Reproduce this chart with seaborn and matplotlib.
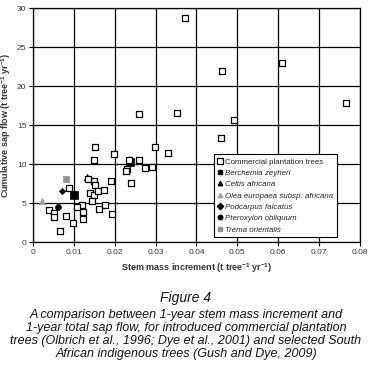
import pandas as pd
import seaborn as sns
import matplotlib.pyplot as plt
from matplotlib.lines import Line2D

# commercial plantation trees
comm_x = [0.0373, 0.0610, 0.0462, 0.0767, 0.0353, 0.0260, 0.0492, 0.0460, 0.0152, 0.0299,
          0.0331, 0.0198, 0.0148, 0.0235, 0.0259, 0.0230, 0.0228, 0.0275, 0.0291, 0.0240,
          0.0191, 0.0149, 0.0151, 0.0135, 0.0087, 0.0140, 0.0150, 0.0159, 0.0174, 0.0144,
          0.0177, 0.0160, 0.0193, 0.0120, 0.0106, 0.0123, 0.0122, 0.0098, 0.0081, 0.0039,
          0.0051, 0.0051, 0.0066]
comm_y = [28.7, 22.9, 21.9, 17.9, 16.6, 16.4, 15.6, 13.3, 12.2, 12.2,
          11.4, 11.3, 10.6, 10.5, 10.5, 9.35, 9.1, 9.5, 9.7, 7.6,
          7.9, 7.8, 7.4, 8.15, 6.9, 6.3, 6.0, 6.6, 6.65, 5.25,
          4.74, 4.23, 3.6, 4.74, 4.57, 3.84, 2.94, 2.52, 3.33, 4.10,
          3.71, 3.29, 1.45]

# indigenous trees
species = ['Berchemia zeyheri', 'Berchemia zeyheri', 'Celtis africana',
           'Olea europaea subsp. africana', 'Podcarpus falcatus',
           'Pteroxylon obliquum', 'Trema orientalis']
sp_x = [0.0099, 0.0236, 0.0132, 0.0022, 0.0071, 0.0061, 0.0081]
sp_y = [6.1, 10.3, 8.35, 5.25, 6.6, 4.5, 8.1]

legend_names = ['Berchemia zeyheri', 'Celtis africana', 'Olea europaea subsp. africana',
                'Podcarpus falcatus', 'Pteroxylon obliquum', 'Trema orientalis']
markers = {'Berchemia zeyheri': 's', 'Celtis africana': '^',
           'Olea europaea subsp. africana': '^', 'Podcarpus falcatus': 'D',
           'Pteroxylon obliquum': 'o', 'Trema orientalis': 's'}
colors = {'Berchemia zeyheri': 'black', 'Celtis africana': 'black',
          'Olea europaea subsp. africana': '#a0a0a0', 'Podcarpus falcatus': 'black',
          'Pteroxylon obliquum': 'black', 'Trema orientalis': '#909090'}
sizes = {'Berchemia zeyheri': 32, 'Celtis africana': 20,
         'Olea europaea subsp. africana': 20, 'Podcarpus falcatus': 10,
         'Pteroxylon obliquum': 18, 'Trema orientalis': 22}

df_comm = pd.DataFrame({'x': comm_x, 'y': comm_y})
df_sp = pd.DataFrame({'x': sp_x, 'y': sp_y, 'species': species})

sns.set_style('white')
plt.rcParams['font.family'] = ['Liberation Sans', 'DejaVu Sans']
plt.rcParams['mathtext.fontset'] = 'custom'
plt.rcParams['mathtext.rm'] = 'Liberation Sans'
plt.rcParams['mathtext.bf'] = 'Liberation Sans:bold'

fig = plt.figure(figsize=(3.72, 3.66), dpi=100)
ax = fig.add_axes([0.0895, 0.338, 0.877, 0.64])

for name in legend_names:
    sub = df_sp[df_sp['species'] == name]
    sns.scatterplot(data=sub, x='x', y='y', ax=ax, marker=markers[name],
                    color=colors[name], s=sizes[name], edgecolor=colors[name],
                    linewidth=0.5, zorder=3)

sns.scatterplot(data=df_comm, x='x', y='y', ax=ax, marker='s', s=15,
                facecolor='white', edgecolor='black', linewidth=0.9, zorder=4)

ax.set_xlim(0, 0.08)
ax.set_ylim(0, 30)
ax.set_xticks([0, 0.01, 0.02, 0.03, 0.04, 0.05, 0.06, 0.07, 0.08])
ax.set_xticklabels(['0', '0.01', '0.02', '0.03', '0.04', '0.05', '0.06', '0.07', '0.08'])
ax.set_yticks([0, 5, 10, 15, 20, 25, 30])
ax.grid(True, color='black', linewidth=0.9)
for s in ax.spines.values():
    s.set_color('black')
    s.set_linewidth(0.9)
ax.tick_params(axis='both', labelsize=6, length=3, width=0.8, color='black',
               direction='out', bottom=True, left=True, pad=2, labelcolor='#333333')

ax.set_xlabel('Stem mass increment (t tree$^{\\mathbf{-1}}$ yr$^{\\mathbf{-1}}$)',
              fontsize=6.5, fontweight='bold', color='#333333', labelpad=4)
ax.set_ylabel('Cumulative sap flow (t tree$^{\\mathbf{-1}}$ yr$^{\\mathbf{-1}}$)',
              fontsize=6.5, fontweight='bold', color='#333333', labelpad=3)

handles = [Line2D([], [], linestyle='none', marker='s', markersize=4,
                  markerfacecolor='white', markeredgecolor='black', markeredgewidth=0.9)]
labels = ['Commercial plantation trees']
for name in legend_names:
    handles.append(Line2D([], [], linestyle='none', marker=markers[name],
                          markersize=3.2, color=colors[name]))
    labels.append(name)
leg = ax.legend(handles, labels, loc='lower right', bbox_to_anchor=(0.93, 0.022),
                fontsize=5.7, frameon=True, fancybox=False, edgecolor='black',
                framealpha=1, handletextpad=0.2, handlelength=0.8,
                borderpad=0.45, labelspacing=0.48, borderaxespad=0)
leg.get_frame().set_linewidth(0.8)
for i, t in enumerate(leg.get_texts()):
    t.set_color('#222222')
    if i > 0:
        t.set_style('italic')

fig.text(0.5, 0.186, 'Figure 4', ha='center', va='center', fontsize=10,
         style='italic', color='#111111')
caption = ('A comparison between 1-year stem mass increment and\n'
           '1-year total sap flow, for introduced commercial plantation\n'
           'trees (Olbrich et al., 1996; Dye et al., 2001) and selected South\n'
           'African indigenous trees (Gush and Dye, 2009)')
fig.text(0.5, 0.087, caption, ha='center', va='center', fontsize=9,
         style='italic', color='#111111', linespacing=1.1)

plt.savefig('out.png', dpi=100)
